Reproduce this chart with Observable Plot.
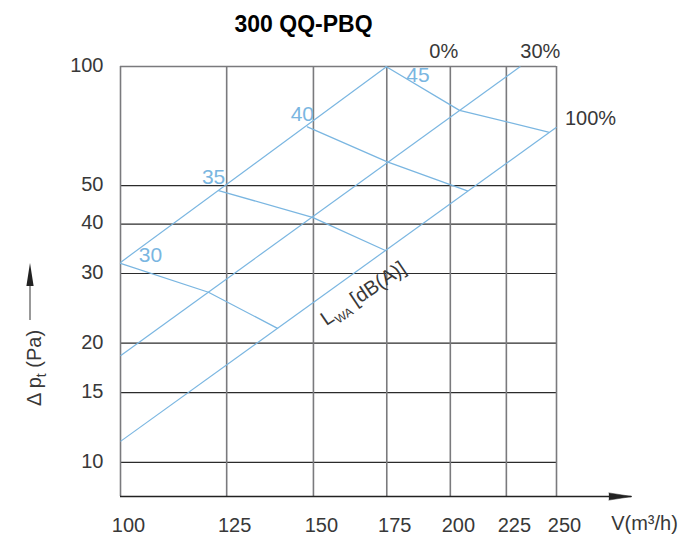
<!DOCTYPE html>
<html><head><meta charset="utf-8">
<script src="https://cdn.jsdelivr.net/npm/d3@7"></script>
<script src="https://cdn.jsdelivr.net/npm/@observablehq/plot@0.6"></script>
<style>body{margin:0;background:#fff} svg{display:block}</style>
</head><body><div id="chart"></div>
<script>
// ---- data ----
const title = "300 QQ-PBQ";
const xTicks = [100, 125, 150, 175, 200, 225, 250];
const yTicks = [10, 15, 20, 30, 40, 50, 100];
const xLabel = "V(m³/h)";

// damper-position characteristics (straight lines on log-log)
const damper = ["0%", "30%", "100%"];
const damperFlowStart = [100, 100, 100];
const damperDpStart = [32, 18.6, 11.3];
const damperFlowEnd = [175, 231.7, 250];
const damperDpEnd = [100, 100, 70.2];

// sound power level lines L_WA [dB(A)]
const levels = [30, 35, 40, 45];
const levelFlow = [[100, 120.3, 139.1], [122.9, 149.7, 174.5], [148.1, 175.2, 207.3], [174.7, 203.9, 245.8]];
const levelDp = [[31.8, 26.9, 21.8], [48.6, 41.6, 34.3], [70.4, 57.4, 48.5], [100, 77.5, 68.3]];

// ---- styling / layout ----
const blue = "#7ab6e1";
const ink = "#383838";
const font = "'Liberation Sans', Arial, sans-serif";
const xMin = 100, xMax = 250, yMin = 8.2, yMax = 100;
const axisTip = 292.9; // flow value where the x-axis arrow ends

const damperRows = damper.map((d, i) => ({label: d, x1: damperFlowStart[i], y1: damperDpStart[i], x2: damperFlowEnd[i], y2: damperDpEnd[i]}));
const levelRows = levels.flatMap((L, i) => levelFlow[i].map((f, j) => ({level: L, flow: f, dp: levelDp[i][j]})));

const levelLabelOffset = {30: [30, -8], 35: [-5, -13], 40: [-5, -13], 45: [32, 9]};
const damperLabelOffset = {"0%": [57, -15], "30%": [20, -15], "100%": [34, -9]};

const chart = Plot.plot({
  width: 685, height: 544,
  marginLeft: 120, marginRight: 129, marginTop: 66, marginBottom: 48,
  x: {type: "log", domain: [xMin, xMax]},
  y: {type: "log", domain: [yMin, yMax]},
  style: {fontFamily: font, fontSize: "20px", color: ink, background: "#fff", overflow: "visible"},
  marks: [
    Plot.ruleY(yTicks.filter(v => v < yMax), {x1: xMin, x2: xMax, stroke: "#2b2b2b", strokeWidth: 1.2}),
    Plot.ruleX(xTicks, {y1: yMin, y2: yMax, stroke: "#7a7a7d", strokeWidth: 1.6}),
    Plot.ruleY([yMax], {x1: xMin, x2: xMax, stroke: "#7a7a7d", strokeWidth: 1.6}),
    Plot.ruleY([yMin], {x1: xMin, x2: axisTip, stroke: "#222", strokeWidth: 1.3}),
    Plot.vector([0], {x: axisTip, y: yMin, anchor: "end", rotate: 90, length: 23, r: 3.6, shape: "spike", fill: "#222", stroke: "#222", strokeWidth: 0.5}),
    Plot.link(damperRows, {x1: "x1", y1: "y1", x2: "x2", y2: "y2", stroke: blue, strokeWidth: 1.2}),
    Plot.line(levelRows, {x: "flow", y: "dp", z: "level", stroke: blue, strokeWidth: 1.3}),
    ...levels.map((L, i) => Plot.text([String(L)], {x: levelFlow[i][0], y: levelDp[i][0], text: d => d,
      dx: levelLabelOffset[L][0], dy: levelLabelOffset[L][1], fill: blue, fontSize: 21})),
    ...damper.map((d, i) => Plot.text([d], {x: damperFlowEnd[i], y: damperDpEnd[i], text: t => t,
      dx: damperLabelOffset[d][0], dy: damperLabelOffset[d][1], fill: ink, fontSize: 20})),
    Plot.axisX(xTicks, {anchor: "bottom", tickSize: 0, tickPadding: 21, dx: 8, tickFormat: d => String(d), label: null, fontSize: 20}),
    Plot.axisY(yTicks, {anchor: "left", tickSize: 0, tickPadding: 17, dy: -1, tickFormat: d => String(d), label: null, fontSize: 20}),
    Plot.text([xLabel], {frameAnchor: "bottom-right", dx: 88, dy: 27, textAnchor: "middle", lineAnchor: "middle", fontSize: 20, fill: ink}),
    Plot.text([title], {frameAnchor: "top", dx: -35, dy: -42, lineAnchor: "middle", fontWeight: "bold", fontSize: 23, fill: "#000"})
  ]
});
document.getElementById("chart").appendChild(chart);

// y-axis title with subscript and arrow
const svg = d3.select(chart);
const gy = svg.append("g").attr("transform", "translate(34,368) rotate(-90)");
const ty = gy.append("text").attr("text-anchor", "middle").attr("dy", "0.35em")
  .attr("fill", ink).attr("font-size", 20).attr("font-family", font);
ty.append("tspan").text("Δ p");
ty.append("tspan").attr("font-size", 14).attr("dy", 5).text("t");
ty.append("tspan").attr("dy", -5).text(" (Pa)");
svg.append("line").attr("x1", 30).attr("x2", 30).attr("y1", 320).attr("y2", 282).attr("stroke", "#555").attr("stroke-width", 1.2);
svg.append("path").attr("d", "M26.4,286L30,263L33.6,286Z").attr("fill", "#222");

// L_WA [dB(A)] label along the 100% line
const gl = svg.append("g").attr("transform", "translate(363,293) rotate(-34)");
const tl = gl.append("text").attr("text-anchor", "middle").attr("dy", "0.35em")
  .attr("fill", ink).attr("font-size", 20).attr("font-family", font);
tl.append("tspan").text("L");
tl.append("tspan").attr("font-size", 12).attr("dy", 5).text("WA");
tl.append("tspan").attr("dy", -5).text(" [dB(A)]");
</script>
</body></html>
